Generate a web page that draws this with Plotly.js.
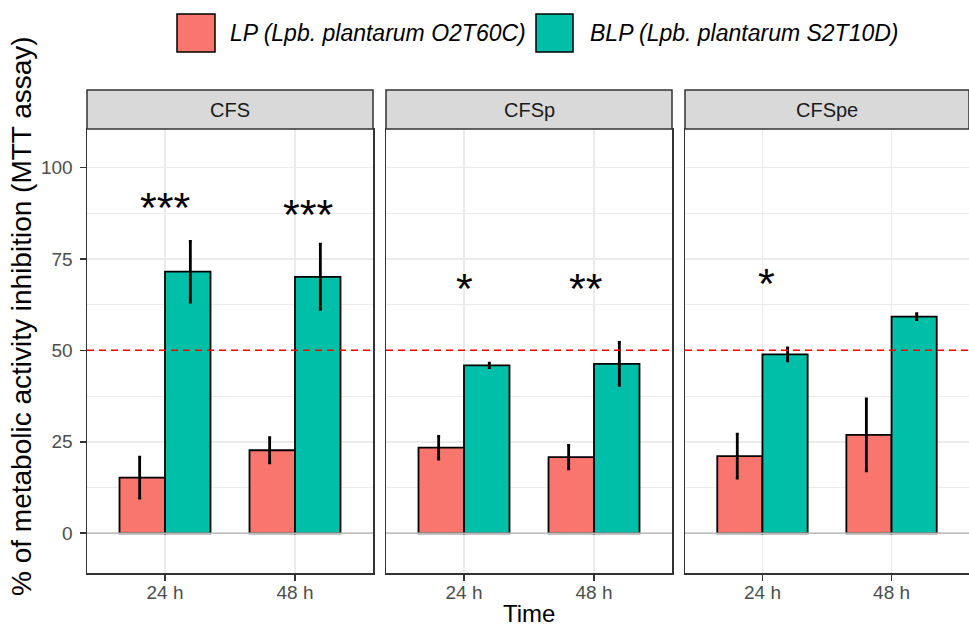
<!DOCTYPE html>
<html><head><meta charset="utf-8">
<script src="https://cdn.plot.ly/plotly-3.0.1.min.js"></script>
<style>html,body{margin:0;padding:0;background:#fff;}#chart{width:969px;height:628px;}</style>
</head><body><div id="chart"></div>
<script>
// ---------- data ----------
const timePoints = ['24 h', '48 h'];
const panelNames = ['CFS', 'CFSp', 'CFSpe'];
const seriesNames = ['LP (Lpb. plantarum O2T60C)', 'BLP (Lpb. plantarum S2T10D)'];
const lpMeans  = [[15.2, 22.7], [23.4, 20.8], [21.1, 26.9]];
const lpSD     = [[5.6, 3.45], [3.1, 3.2], [6.0, 9.85]];
const blpMeans = [[71.5, 70.1], [45.9, 46.3], [48.9, 59.2]];
const blpSD    = [[8.3, 8.9], [0.6, 5.85], [1.8, 0.8]];
const starLabels = [['***', '***'], ['*', '**'], ['*']];
const starY      = [[90.6, 88.6], [68.4, 68.4], [69.9]];
const starX      = [[0, 1.1], [0, 0.94], [0.03]];
const thresholdValue = 50;
const yTickVals = [0, 25, 50, 75, 100];
const yTitle = '% of metabolic activity inhibition (MTT assay)';
const xTitle = 'Time';

// ---------- layout helpers ----------
const W = 969, H = 628, L = 87, R = 0, T = 90, B = 55;
const plotW = W - L - R, plotH = H - T - B;
const px2x = p => (p - L) / plotW;
const px2y = p => (H - B - p) / plotH;
const yTop = px2y(129);
const panelPx = [[87, 373], [386, 672], [685, 969]];
const colors = ['#F8766D', '#00BFA8'];
const FONT = 'Liberation Sans, Arial, Helvetica, sans-serif';
const gridC = '#EBEBEB', borderC = '#333333';

const traces = [];
const layout = {
  width: W, height: H,
  margin: {l: L, r: R, t: T, b: B, pad: 0},
  paper_bgcolor: '#fff', plot_bgcolor: '#fff',
  font: {family: FONT, color: '#1A1A1A'},
  barmode: 'overlay',
  showlegend: false,
  shapes: [], annotations: []
};

panelNames.forEach((name, p) => {
  const sfx = p === 0 ? '' : String(p + 1);
  const xa = 'x' + sfx, ya = 'y' + sfx;
  const means = [lpMeans[p], blpMeans[p]];
  const sds = [lpSD[p], blpSD[p]];
  means.forEach((m, s) => {
    traces.push({
      type: 'bar', x: timePoints, y: m, name: seriesNames[s],
      xaxis: xa, yaxis: ya,
      width: 0.35, offset: s === 0 ? -0.35 : 0,
      marker: {color: colors[s], line: {color: '#000', width: 1.8}},
      hoverinfo: 'y+name'
    });
  });
  means.forEach((m, s) => {
    traces.push({
      type: 'bar', x: timePoints, y: m, name: seriesNames[s] + ' SD',
      xaxis: xa, yaxis: ya,
      width: 0.002, offset: s === 0 ? -0.196 : 0.194,
      marker: {color: 'rgba(0,0,0,0)', line: {width: 0}},
      error_y: {type: 'data', array: sds[s], visible: true, color: '#000', thickness: 2.8, width: 1.5},
      hoverinfo: 'skip'
    });
  });

  const d = [px2x(panelPx[p][0]), Math.min(1, px2x(panelPx[p][1]))];
  layout['xaxis' + sfx] = {
    domain: d, anchor: ya, type: 'category', categoryorder: 'array', categoryarray: timePoints,
    range: [-0.6, 1.6], showgrid: true, gridcolor: gridC, gridwidth: 1.6,
    showline: true, mirror: true, linecolor: borderC, linewidth: 1.5,
    ticks: 'outside', ticklen: 6, tickwidth: 1.6, tickcolor: borderC, ticklabelstandoff: -4,
    tickfont: {size: 19, color: '#4D4D4D', family: FONT}, zeroline: false, fixedrange: true
  };
  layout['yaxis' + sfx] = {
    domain: [0, yTop], anchor: xa, range: [-10.85, 110.5],
    tickmode: 'array', tickvals: yTickVals,
    showgrid: true, gridcolor: gridC, gridwidth: 1.6,
    minor: {tick0: 12.5, dtick: 25, showgrid: true, gridcolor: gridC, gridwidth: 1.0},
    showline: true, mirror: p < 2, linecolor: borderC, linewidth: 1.5,
    ticks: p === 0 ? 'outside' : '', ticklen: 6, tickwidth: 1.6, tickcolor: borderC,
    showticklabels: p === 0, ticklabelstandoff: 3,
    tickfont: {size: 19, color: '#4D4D4D', family: FONT}, zeroline: false, fixedrange: true
  };
  if (p > 0) layout['yaxis' + sfx].matches = 'y';

  // strip
  layout.shapes.push({type: 'rect', xref: xa + ' domain', yref: 'paper', x0: 0, x1: 1, y0: yTop, y1: 1,
    fillcolor: '#D9D9D9', line: {color: borderC, width: 1.5}, layer: 'above'});
  layout.annotations.push({xref: xa + ' domain', yref: 'paper', x: 0.5, y: (yTop + 1) / 2,
    text: name, showarrow: false, font: {size: 20, color: '#1A1A1A', family: FONT}, xanchor: 'center', yanchor: 'middle'});
  // zero line and threshold
  layout.shapes.push({type: 'line', xref: xa + ' domain', yref: ya, x0: 0, x1: 1, y0: 0, y1: 0,
    line: {color: '#BDBDBD', width: 1.5}, layer: 'above'});
  layout.shapes.push({type: 'line', xref: xa + ' domain', yref: ya, x0: 0, x1: 1, y0: thresholdValue, y1: thresholdValue,
    line: {color: '#FF0000', width: 1.5, dash: '7px,5px'}, layer: 'above'});
  // significance stars
  starLabels[p].forEach((lab, k) => {
    if (!lab) return;
    layout.annotations.push({xref: xa, yref: ya, x: starX[p][k], y: starY[p][k], text: lab,
      showarrow: false, xanchor: 'center', yanchor: 'middle', yshift: -5,
      font: {size: 43, color: '#000', family: FONT}});
  });
});

// custom legend (large keys like ggplot)
const legendBoxes = [[177, 215], [536, 573]];
const legendText = [228, 588];
seriesNames.forEach((nm, s) => {
  layout.shapes.push({type: 'rect', xref: 'paper', yref: 'paper',
    x0: px2x(legendBoxes[s][0]), x1: px2x(legendBoxes[s][1]), y0: px2y(52), y1: px2y(14),
    fillcolor: colors[s], line: {color: '#000', width: 1.5}});
  layout.annotations.push({xref: 'paper', yref: 'paper', x: px2x(legendText[s]), y: px2y(33),
    xanchor: 'left', yanchor: 'middle', text: '<i>' + nm + '</i>', showarrow: false,
    font: {size: 23, color: '#000', family: FONT}});
});

// axis titles
layout.annotations.push({xref: 'paper', yref: 'paper', x: px2x(529), y: px2y(613), text: xTitle,
  showarrow: false, xanchor: 'center', yanchor: 'middle', font: {size: 24, color: '#000', family: FONT}});
layout.annotations.push({xref: 'paper', yref: 'paper', x: px2x(21), y: px2y(316), text: yTitle,
  textangle: -90, showarrow: false, xanchor: 'center', yanchor: 'middle', font: {size: 28, color: '#000', family: FONT}});

Plotly.newPlot('chart', traces, layout, {displayModeBar: false, staticPlot: true});
</script>
</body></html>
